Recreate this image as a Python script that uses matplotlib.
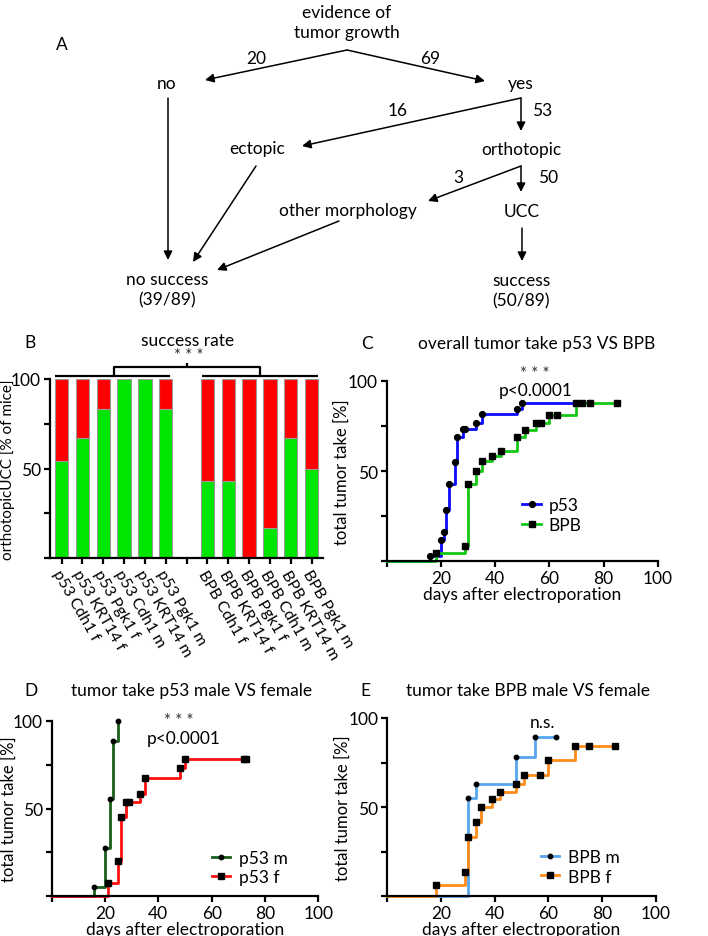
import numpy as np
import matplotlib
matplotlib.use('Agg')
import matplotlib.pyplot as plt

plt.rcParams['font.family'] = ['Lato', 'DejaVu Sans']
plt.rcParams['font.size'] = 12.5

W, H = 708, 937

# ---- data ----
# flowchart counts (panel A)
flow_counts = [20, 69, 16, 53, 3, 50]

# panel B: success rate (% green) per group
bar_labels = ['p53 Cdh1 f', 'p53 KRT14 f', 'p53 Pgk1 f', 'p53 Cdh1 m', 'p53 KRT14 m', 'p53 Pgk1 m', '',
              'BPB Cdh1 f', 'BPB KRT14 f', 'BPB Pgk1 f', 'BPB Cdh1 m', 'BPB KRT14 m', 'BPB Pgk1 m']
success_pct = [54, 67, 83, 100, 100, 83, None, 43, 43, 0, 17, 67, 50]

# panel C
p53_days = [16, 20, 21, 22, 23, 25, 26, 28, 29, 33, 35, 48, 50, 75]
p53_pct = [2.8, 11.8, 16.5, 28.7, 42.6, 54.8, 68.9, 73.5, 73.5, 76.5, 81.5, 84.2, 87.8, 87.8]
bpb_days = [18, 29, 30, 33, 35, 39, 42, 48, 51, 55, 57, 60, 63, 70, 72, 75, 85]
bpb_pct = [4.4, 8.7, 42.9, 50.3, 55.7, 58.3, 61.1, 69.2, 72.6, 76.5, 76.5, 81.3, 81.3, 87.6, 87.6, 87.6, 87.6]

# panel D
p53m_days = [16, 20, 22, 23, 25]
p53m_pct = [5.5, 27.5, 55.4, 88.6, 100]
p53f_days = [21, 25, 26, 28, 29, 33, 35, 48, 50, 72, 73]
p53f_pct = [7.6, 20.3, 45.3, 53.7, 53.7, 58.4, 67.5, 73, 78.4, 78.4, 78.4]

# panel E
bpbm_days = [30, 33, 48, 55, 63]
bpbm_pct = [55.2, 63.1, 78.1, 89.1, 89.1]
bpbf_days = [18, 29, 30, 33, 35, 39, 42, 48, 51, 57, 60, 70, 75, 85]
bpbf_pct = [6.5, 13.8, 33.5, 41.9, 50, 54.3, 58.6, 63.1, 68.3, 68.3, 76.4, 84.5, 84.5, 84.5]


def px_axes(l, r, t, b):
    return fig.add_axes([l / W, 1 - b / H, (r - l) / W, (b - t) / H])


fig = plt.figure(figsize=(W / 100, H / 100), dpi=100)

# ---- panel A: flow chart ----
axA = fig.add_axes([0, 0, 1, 1])
axA.set_xlim(0, W)
axA.set_ylim(H, 0)
axA.axis('off')

def node(x, y, s):
    axA.text(x, y, s, ha='center', va='center', linespacing=1.3)

def arrow(x0, y0, x1, y1):
    axA.annotate('', xy=(x1, y1), xytext=(x0, y0),
                 arrowprops=dict(arrowstyle='-|>', color='black', lw=1.1,
                                 mutation_scale=13, shrinkA=0, shrinkB=0))

axA.text(62, 45, 'A', ha='center', va='center')
node(347, 23, 'evidence of\ntumor growth')
node(167, 84, 'no')
node(521, 84, 'yes')
node(257, 149, 'ectopic')
node(521, 150, 'orthotopic')
node(348, 211, 'other morphology')
node(522, 212, 'UCC')
node(167, 290, 'no success\n(39/89)')
node(521, 291, 'success\n(50/89)')

arrow(347, 51, 205, 81)
arrow(347, 51, 485, 82)
arrow(521, 99, 302, 147)
arrow(521, 99, 521, 132)
arrow(521, 167, 428, 202)
arrow(521, 167, 521, 193)
arrow(168, 99, 168, 261)
arrow(256, 167, 193, 263)
arrow(339, 222, 217, 271)
arrow(522, 229, 522, 262)

count_pos = [(256, 59), (430, 59), (398, 111), (542, 111), (458, 178), (548, 178)]
for (x, y), c in zip(count_pos, flow_counts):
    axA.text(x, y, str(c), ha='center', va='center')


def style_axes(ax):
    for s in ['top', 'right']:
        ax.spines[s].set_visible(False)
    for s in ['left', 'bottom']:
        ax.spines[s].set_linewidth(1.6)
    ax.tick_params(width=1.6, length=4.5, direction='out', pad=2)
    ax.set_yticks([0, 25, 50, 75, 100])
    ax.set_yticklabels(['', '', '50', '', '100'])


def km_axes(ax, ylab_x):
    style_axes(ax)
    ax.set_xlim(0, 100)
    ax.set_ylim(0, 100)
    ax.set_xticks([0, 20, 40, 60, 80, 100])
    ax.set_xticklabels(['', '20', '40', '60', '80', '100'])
    ax.set_xlabel('days after electroporation', labelpad=0)
    ax.set_ylabel('total tumor take [%]', fontsize=12)
    ax.yaxis.set_label_coords(ylab_x, 0.5)


def km_curve(ax, days, pct, color, marker, ms, label):
    ax.plot([0] + days, [0] + pct, drawstyle='steps-post', color=color, lw=2.0,
            marker=marker, markevery=list(range(1, len(days) + 1)),
            mfc='black', mec='black', ms=ms, label=label, clip_on=False)


def stars(ax, x, y):
    ax.text(x, y, '* * *', ha='center', va='center', fontsize=12, color='#333333')


# ---- panel B ----
axB = px_axes(50, 322.7, 380, 559.3)
style_axes(axB)
x = np.arange(len(bar_labels))
for i, v in enumerate(success_pct):
    if v is None:
        continue
    axB.bar(i, v, width=0.64, color='#00e600', edgecolor='#9a9a9a', lw=0.8)
    axB.bar(i, 100 - v, bottom=v, width=0.64, color='#ff0000', edgecolor='#9a9a9a', lw=0.8)
axB.set_xlim(-0.56, 12.53)
axB.set_ylim(0, 100)
axB.set_xticks(x)
axB.set_xticklabels(bar_labels, rotation=-60, ha='left', va='top', rotation_mode='anchor',
                    fontsize=11.5)
axB.tick_params(axis='x', pad=2)
axB.set_ylabel('orthotopicUCC [% of mice]', fontsize=11)
axB.yaxis.set_label_coords(-0.13, 0.5)
# significance bracket
bk = dict(color='black', lw=1.6, clip_on=False, solid_capstyle='butt')
axB.plot([-0.32, 5.2], [101.8, 101.8], **bk)
axB.plot([6.72, 12.32], [101.8, 101.8], **bk)
axB.plot([2.5, 2.5, 9.5, 9.5], [101.8, 106.5, 106.5, 101.8], **bk)
axB.plot([6, 6], [106.5, 109], **bk)
stars(axB, 6.1, 113.5)
axB.text(6.05, 121.5, 'success rate', ha='center', va='center')
fig.text(30 / W, 1 - 343 / H, 'B', ha='center', va='center')

# ---- panel C ----
axC = px_axes(386.8, 657.7, 382, 562.3)
km_axes(axC, -0.135)
km_curve(axC, p53_days, p53_pct, '#0a0aff', 'o', 4.2, 'p53')
km_curve(axC, bpb_days, bpb_pct, '#14c814', 's', 4.5, 'BPB')
stars(axC, 54.5, 104.5)
axC.text(55, 95, 'p<0.0001', ha='center', va='center')
axC.legend(loc='upper left', bbox_to_anchor=(0.5, 0.355), frameon=False, handlelength=1.1,
           handletextpad=0.4, labelspacing=0.2, borderpad=0, borderaxespad=0)
fig.text(537 / W, 1 - 344 / H, 'overall tumor take p53 VS BPB', ha='center', va='center')
fig.text(367 / W, 1 - 344 / H, 'C', ha='center', va='center')

# ---- panel D ----
axD = px_axes(51.7, 318.3, 721.7, 897.3)
km_axes(axD, -0.132)
km_curve(axD, p53m_days, p53m_pct, '#1a5e1a', 'o', 3.2, 'p53 m')
km_curve(axD, p53f_days, p53f_pct, '#ff1010', 's', 3.8, 'p53 f')
stars(axD, 47.5, 100.5)
axD.text(49.5, 90, 'p<0.0001', ha='center', va='center')
axD.legend(loc='upper left', bbox_to_anchor=(0.6, 0.265), frameon=False, handlelength=1.05,
           handletextpad=0.5, labelspacing=0.2, borderpad=0, borderaxespad=0)
fig.text(192 / W, 1 - 691 / H, 'tumor take p53 male VS female', ha='center', va='center')
fig.text(31 / W, 1 - 691 / H, 'D', ha='center', va='center')

# ---- panel E ----
axE = px_axes(387.3, 655.7, 719, 897.3)
km_axes(axE, -0.135)
km_curve(axE, bpbm_days, bpbm_pct, '#55a5f0', 'o', 3.2, 'BPB m')
km_curve(axE, bpbf_days, bpbf_pct, '#ff8c1a', 's', 3.8, 'BPB f')
axE.text(58, 97.5, 'n.s.', ha='center', va='center')
axE.legend(loc='upper left', bbox_to_anchor=(0.573, 0.265), frameon=False, handlelength=1.05,
           handletextpad=0.5, labelspacing=0.2, borderpad=0, borderaxespad=0)
fig.text(528 / W, 1 - 691 / H, 'tumor take BPB male VS female', ha='center', va='center')
fig.text(365 / W, 1 - 691 / H, 'E', ha='center', va='center')

fig.savefig('out.png', dpi=100)
